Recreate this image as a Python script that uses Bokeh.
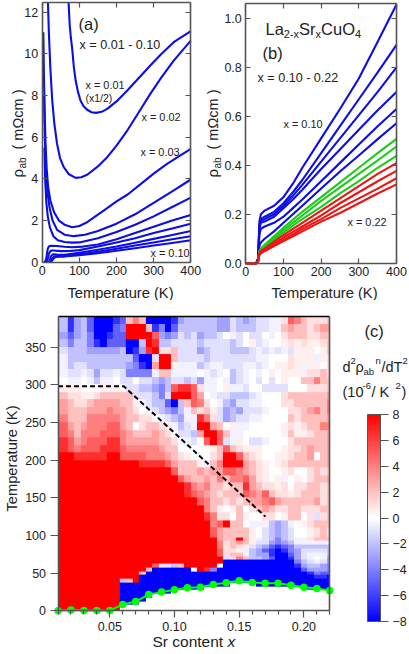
from math import pi
import numpy as np
from bokeh.embed import file_html
from bokeh.resources import INLINE
from bokeh.plotting import figure
from bokeh.layouts import column, row
from bokeh.models import (LinearAxis, FixedTicker, Label, Range1d, ColorBar, LinearColorMapper,
                          CustomJSTickFormatter, NumeralTickFormatter)

FONT = "Liberation Sans"
AX = "#555555"
TXT = "#222222"
BLUE, GREEN, RED = "#0d0de6", "#1ccc1c", "#ee1414"

# ---------- panel (a): resistivity, x = 0.01 ... 0.10 ----------
a01_T = [71, 74, 77, 81, 85, 90, 96, 103, 111, 121, 133, 145, 160, 175, 200, 229, 260, 291, 320, 354, 400]
a01_r = [12.45, 11.4, 10.8, 10.2, 9.4, 8.72, 8.2, 7.76, 7.5, 7.32, 7.2, 7.17, 7.22, 7.36, 7.72, 8.24, 8.84, 9.44, 9.98, 10.56, 11.09]
a02_T = [15.5, 18, 22, 27, 33, 40, 48, 58, 72, 90, 105, 121, 150, 175, 200, 229, 260, 291, 320, 354, 400]
a02_r = [12.45, 11.0, 9.3, 7.76, 6.6, 5.68, 5.0, 4.56, 4.22, 4.05, 4.08, 4.2, 4.6, 5.04, 5.6, 6.32, 7.2, 8.08, 8.85, 9.68, 10.64]
a03_T = [3, 5, 7, 9, 12, 16, 22, 32, 45, 60, 81, 100, 121, 150, 175, 200, 230, 265, 300, 336, 370, 400]
a03_r = [11.04, 8.6, 6.96, 5.68, 4.5, 3.6, 2.96, 2.4, 2.0, 1.8, 1.68, 1.74, 1.92, 2.28, 2.6, 2.92, 3.25, 3.75, 4.25, 4.72, 5.1, 5.44]
a04_T = [5, 7, 10, 14, 20, 28, 40, 60, 85, 115, 150, 200, 250, 300, 350, 400]
a04_r = [8.0, 6.0, 4.5, 3.4, 2.6, 2.0, 1.55, 1.32, 1.25, 1.32, 1.5, 1.85, 2.3, 2.85, 3.4, 3.97]
a05_T = [6, 8, 11, 15, 21, 30, 42, 60, 80, 100, 150, 200, 250, 300, 350, 400]
a05_r = [5.5, 4.0, 2.9, 2.2, 1.65, 1.25, 1.05, 0.97, 0.94, 0.95, 1.15, 1.45, 1.8, 2.2, 2.65, 3.1]
a06_T = [6, 10, 13, 15, 18, 20, 25, 40, 60, 80, 110, 150, 200, 250, 300, 350, 400]
a06_r = [0, 0.1, 0.42, 0.65, 0.75, 0.78, 0.79, 0.78, 0.74, 0.72, 0.75, 0.85, 1.1, 1.4, 1.7, 2.0, 2.27]
a07_T = [12, 15, 18, 21, 24, 30, 50, 75, 100, 150, 200, 250, 300, 350, 400]
a07_r = [0, 0.15, 0.4, 0.5, 0.56, 0.56, 0.53, 0.54, 0.58, 0.75, 0.95, 1.15, 1.4, 1.62, 1.85]
a08_T = [18, 21, 24, 27, 30, 40, 60, 100, 150, 200, 250, 300, 350, 400]
a08_r = [0, 0.12, 0.3, 0.35, 0.38, 0.37, 0.36, 0.45, 0.6, 0.75, 0.93, 1.12, 1.31, 1.5]
a09_T = [22, 25, 28, 33, 45, 60, 100, 150, 200, 250, 300, 350, 400]
a09_r = [0, 0.08, 0.2, 0.28, 0.29, 0.3, 0.38, 0.5, 0.65, 0.8, 0.95, 1.1, 1.25]
a10_T = [24, 27, 30, 36, 45, 60, 100, 150, 200, 250, 300, 350, 400]
a10_r = [0, 0.08, 0.17, 0.25, 0.26, 0.27, 0.33, 0.43, 0.55, 0.67, 0.8, 0.92, 1.05]
A_CURVES = [(a01_T, a01_r), (a02_T, a02_r), (a03_T, a03_r), (a04_T, a04_r), (a05_T, a05_r),
            (a06_T, a06_r), (a07_T, a07_r), (a08_T, a08_r), (a09_T, a09_r), (a10_T, a10_r)]

# ---------- panel (b): resistivity, x = 0.10 ... 0.22 ----------
b_T = [0, 28, 33, 36, 40, 50, 75, 100, 125, 150, 200, 250, 300, 350, 400]
b10 = [0, 0, 0.02, 0.17, 0.20, 0.215, 0.235, 0.27, 0.325, 0.39, 0.51, 0.63, 0.755, 0.905, 1.057]
b11 = [0, 0, 0.02, 0.15, 0.18, 0.19, 0.21, 0.245, 0.29, 0.34, 0.45, 0.56, 0.67, 0.78, 0.892]
b12 = [0, 0, 0.02, 0.15, 0.175, 0.18, 0.20, 0.235, 0.275, 0.32, 0.415, 0.51, 0.605, 0.70, 0.80]
b13 = [0, 0, 0.02, 0.14, 0.165, 0.17, 0.19, 0.225, 0.26, 0.30, 0.385, 0.465, 0.545, 0.625, 0.70]
b14 = [0, 0, 0.02, 0.12, 0.14, 0.15, 0.165, 0.19, 0.225, 0.26, 0.335, 0.41, 0.485, 0.56, 0.63]
b15 = [0, 0, 0.02, 0.07, 0.085, 0.10, 0.13, 0.165, 0.20, 0.235, 0.305, 0.375, 0.44, 0.507, 0.572]
b16 = [0, 0, 0.01, 0.05, 0.06, 0.075, 0.11, 0.145, 0.178, 0.21, 0.27, 0.33, 0.39, 0.45, 0.508]
b17 = [0, 0, 0.01, 0.045, 0.055, 0.07, 0.102, 0.135, 0.165, 0.195, 0.255, 0.31, 0.365, 0.42, 0.477]
b18 = [0, 0, 0.01, 0.045, 0.055, 0.065, 0.095, 0.125, 0.153, 0.18, 0.23, 0.285, 0.335, 0.39, 0.439]
b19 = [0, 0, 0.01, 0.04, 0.05, 0.06, 0.088, 0.115, 0.14, 0.165, 0.215, 0.265, 0.315, 0.365, 0.409]
b20 = [0, 0, 0.01, 0.04, 0.045, 0.055, 0.08, 0.105, 0.128, 0.15, 0.195, 0.245, 0.29, 0.335, 0.377]
b21 = [0, 0, 0.01, 0.035, 0.045, 0.05, 0.072, 0.095, 0.118, 0.14, 0.18, 0.225, 0.265, 0.305, 0.347]
b22 = [0, 0, 0.01, 0.035, 0.04, 0.05, 0.07, 0.09, 0.11, 0.13, 0.17, 0.205, 0.245, 0.285, 0.322]
B_BLUE = [b10, b11, b12, b13, b14, b15]
B_GREEN = [b16, b17, b18]
B_RED = [b19, b20, b21, b22]

# ---------- panel (c): green transition line ----------
tc_x = [0.01, 0.02, 0.03, 0.04, 0.05, 0.06, 0.07, 0.08, 0.09, 0.10, 0.11,
        0.12, 0.13, 0.14, 0.15, 0.16, 0.17, 0.18, 0.19, 0.20, 0.21, 0.22]
tc_T = [0, 1, 0.5, 0.5, 0.5, 8.3, 12.3, 21.6, 24.8, 27.9, 30.5,
        31.4, 34.9, 37.1, 39.8, 37.6, 36.7, 36.7, 34, 31.4, 29.6, 27]
pg_x = [0.01, 0.0608, 0.1703]
pg_T = [298, 298, 125]

# ---------- panel (c): d2rho/dT2 read by eye, one letter per cell ----------
LEVELS = {"A": -8, "B": -6.5, "C": -5, "D": -4, "E": -3, "F": -2, "G": -1, "H": -0.5, ".": 0,
          "i": 0.5, "j": 1, "k": 2, "l": 3, "m": 4, "n": 5, "o": 6.5, "p": 8}
P21 = "p" * 21
A21 = "A" * 21
# top to bottom, 10 K per row, T = 390 ... 100
HEAT_HIGH = [
    "FBEFCAAABCkmkAAAABEFF" "FFFEEGFEFGGHHjnmkjjjk",
    "FBEFCAAACDpppkBDACFFF" "FFFEEGFFFGGHHklkkjkll",
    "ECEFDAABCCppppnEDEGFG" "EFFG.HG.GG.H.jkkkjjkk",
    "FDFFDBACCCAAFpoFFGGGG" "FGGGGFG.iGH..ijijiijk",
    "GFFFEEEEEFABEopjjkGGG" "EFGGGFFFGHGHGHGiii.ik",
    "HFFFFFFFFFFCAAGppkGGG" "GFGGGGGGGHH...jiiiHij",
    "HFGGFFFFFFEDBAlppiHHH" "FGHHGGGHHGH.iijiHii.j",
    "HGGHGEGGHGDDDDHkkHHHH" ".HGH.FGH.H.i.iiiijjkj",
    ".HH.HFHH.GG.GGFEFGGFG" "EHH.HFGH.G.G.i..kkmkk",
    "iii...iii.GGFFEDFnoon" "jHH.iHHG..GGGG...jjjk",
    "kjjiijkkkkkGGGFDGpppn" "l.HGGFFFGH...jkkkkkkl",
    "lkjjkllllkkiHGFFCAFkn" "mj.HFEGGHH...jjkkkkkm",
    "lkkklllmllkj.HGFEDFHk" "jkiGEFEGGGH...jjklmkm",
    "mkkkmmmmmlkkjj.HGFEHH" "omjGEFGGHH....kjkkkkl",
    "nlklmmmnnlk.jkkjiHFGH" "pplk.iHH.....ijijkkmm",
    "nmkmmmnnnmlkkklkj.GGF" "lppnkHH......ikiijkkl",
    "onlmnnnoomlllllkkj.HG" ".npnGHi.GGH...jkkkkkl",
    "onmnnnooonmmmmmlkk..." "..iknkjiii...ijjklkkl",
    "ppooooopp" "nnnnmmm" "lkji." "..jkppnkji..iijkkl.kl",
    "pppppppppppp" "oooo" "nlkkk" "iHkmppplkji.ijkkkkkkl",
    "ppppppppppppppppp" "nkkk" "lkllnnmlkji..ij..jkjk",
    "pppppppppppppppppp" "nlk" "klkmkmmnlji.iH.i.jkkl",
    "ppppppppppppppppppp" "om" "lmkkjkkolkjjij.jjkkjk",
    "ppppppppppppppppppp" "on" "mlkjkkknmlnkjjijkkkjk",
    P21 + "nmkkjkjkllmnlkkkkkljk",
    P21 + "pmki.ik.jklkjjkkjjjkk",
    P21 + "pomjj.ki..jj.ikk.jGjk",
    P21 + "ppmnpkk.HHHFEFH.ijkkk",
    P21 + "ppnlkkkki.GFEFG..ijkj",
]
# top to bottom, 5 K per row, T = 95 ... 0
HEAT_LOW = [
    P21 + "ppplkkpkiHGFDFGHijkkk",
    P21 + "pppmjklkiGGEDEFHHHHHH",
    P21 + "pppmjkjiGFECBCDFFFFFF",
    P21 + "pppnjjiHFECBABDEGGGGF",
    P21 + "pppnjkkHFEEBAACEGHHHF",
    P21 + "ppppGjmkFFECAABEGH.HE",
    P21 + "ppppAAAAAAAAAAADFGHGE",
    "pppppppppppppp" "njGFkpp" "ppp." "AAAAAAAAAAA" "BEFFED",
    "ppppppppppppp" "k" "AAAAAA" "." "poD" "AAAAAAAAAAAAA" "CEEED",
    "pppppppppppp" "k" "AAAAAAAA" "AAAAAAAAAAAAAAAAA" "BDCC",
    "pppppppppppp" "AAAAAAAAA" "AAAAAAAAAAAAAAAAAA" "BBA",
    "ppppppppp" "Fkp" "AAAAAAAAA" + A21,
    "ppppppppp" "AAAAAAAAAAAA" "AAAAA" "...." "AAAAAAAAAAAA",
    "ppppppppp" "AAAAAAAAAAAA" "A" "..............." "AAAAA",
    "ppppppppp" "AAAAAAAA" "...." "...................." "A",
    "ppppppppp" "AAAAA" "......." ".....................",
    "ppppppppp" "AAAA" "........" ".....................",
    "ppppppppp" "AAA" "........." ".....................",
    "ppppppppp" "............" ".....................",
    "ppppppppp" "............" ".....................",
]
CB_TICKS = [-8, -6, -4, -2, 0, 2, 4, 6, 8]


def to_grid(rows):
    grid = [[LEVELS[c] for c in (r[0] + r)] for r in rows]
    return np.array(grid[::-1], dtype=float)


def put(p, fl, fb, x, y, text, size, align="left", angle=0.0, style="normal", color=TXT):
    p.add_layout(Label(x=x - fl, y=fb - y, x_units="screen", y_units="screen", text=text,
                       text_font=FONT, text_font_size=f"{size}px", text_color=color,
                       text_align=align, text_baseline="middle", angle=angle,
                       text_font_style=style))


def style_axis(ax, ticks, labels=True):
    ax.ticker = FixedTicker(ticks=ticks)
    ax.axis_line_color = AX
    ax.axis_line_width = 1.6
    ax.major_tick_line_color = AX
    ax.major_tick_line_width = 1.2
    ax.major_tick_in = 5
    ax.major_tick_out = 0
    ax.minor_tick_line_color = None
    ax.major_label_text_font = FONT
    ax.major_label_text_font_size = "12.5px"
    ax.major_label_text_color = TXT
    ax.major_label_standoff = 4
    if not labels:
        ax.formatter = CustomJSTickFormatter(code="return ''")
        ax.major_label_standoff = 0
        ax.major_label_text_font_size = "0px"


def panel(canvas_l, canvas_t, width, height, x0px, x_per_px, y0px, y_per_px, x_top, y_top, xt, yt):
    """Frame fills the canvas so that nothing is clipped; axes sit at their data positions."""
    xr = Range1d((canvas_l - x0px) * x_per_px, (canvas_l + width - x0px) * x_per_px)
    yr = Range1d((y0px - canvas_t - height) * y_per_px, (y0px - canvas_t) * y_per_px)
    p = figure(width=width, height=height, min_border=0, x_range=xr, y_range=yr,
               output_backend="svg", toolbar_location=None, outline_line_color=None)
    p.grid.visible = False
    p.background_fill_color = None
    p.border_fill_color = None
    style_axis(p.xaxis[0], xt)
    p.xaxis[0].fixed_location = 0
    p.xaxis[0].bounds = (0, x_top)
    style_axis(p.yaxis[0], yt)
    p.yaxis[0].fixed_location = 0
    p.yaxis[0].bounds = (0, y_top)
    ax_r = LinearAxis(fixed_location=x_top, bounds=(0, y_top))
    style_axis(ax_r, yt, labels=False)
    p.add_layout(ax_r, "right")
    ax_t = LinearAxis(fixed_location=y_top, bounds=(0, x_top))
    style_axis(ax_t, xt, labels=False)
    p.add_layout(ax_t, "above")
    return p


# ---------- (a) ----------
Ha = 300
pa = panel(0, 0, 205, Ha, 41.7, 400 / 148.6, 261.7, 1 / 20.83, 400, 12.45,
           [0, 100, 200, 300, 400], [0, 2, 4, 6, 8, 10, 12])
for t, r in A_CURVES:
    pa.line(t, r, line_color=BLUE, line_width=2.1, line_join="round")
put(pa, 0, Ha, 78, 23, "(a)", 16.5)
put(pa, 0, Ha, 79, 44, "x = 0.01 - 0.10", 12.6)
put(pa, 0, Ha, 85, 84, "x = 0.01", 10.9)
put(pa, 0, Ha, 85, 97, "(x1/2)", 10.5)
put(pa, 0, Ha, 141, 116, "x = 0.02", 10.9)
put(pa, 0, Ha, 140, 151, "x = 0.03", 10.9)
put(pa, 0, Ha, 150, 252, "x = 0.10", 10.9)
put(pa, 0, Ha, 120, 292, "Temperature (K)", 14.7, align="center")
put(pa, 0, Ha, 17, 177, "ρ", 15, angle=pi / 2)
put(pa, 0, Ha, 22, 168, "ab", 10, angle=pi / 2)
put(pa, 0, Ha, 17, 149, "( mΩcm )", 14.5, angle=pi / 2)

# ---------- (b) ----------
OFF = 205
pb = panel(OFF, 0, 204, Ha, 245.3, 400 / 150.7, 262.7, 1 / 244.7, 400, 1.06,
           [0, 100, 200, 300, 400], [0, 0.2, 0.4, 0.6, 0.8, 1.0])
pb.yaxis[0].formatter = NumeralTickFormatter(format="0.0")
for r in B_BLUE:
    pb.line(b_T, r, line_color=BLUE, line_width=2.1, line_join="round")
for r in B_GREEN:
    pb.line(b_T, r, line_color=GREEN, line_width=2.1, line_join="round")
for r in B_RED:
    pb.line(b_T, r, line_color=RED, line_width=2.1, line_join="round")


def putb(x, y, text, size, **kw):
    put(pb, OFF, Ha, x, y, text, size, **kw)


x0 = 265
for txt, size, dx, dy in [("La", 16.5, 0, 0), ("2-x", 11, 18.3, 5), ("Sr", 16.5, 33.6, 0), ("x", 11, 50.1, 5),
                          ("CuO", 16.5, 55.6, 0), ("4", 11, 89.5, 5)]:
    putb(x0 + dx, 28 + dy, txt, size)
putb(262, 52, "(b)", 16.5)
putb(257, 77, "x = 0.10 - 0.22", 12.6)
putb(283, 123, "x = 0.10", 10.9)
putb(347, 221, "x = 0.22", 10.9)
putb(324, 292, "Temperature (K)", 14.7, align="center")
putb(212, 177, "ρ", 15, angle=pi / 2)
putb(217, 168, "ab", 10, angle=pi / 2)
putb(212, 149, "( mΩcm )", 14.5, angle=pi / 2)

# ---------- (c) ----------
PX_PER_X, PX_X05 = 1294.0, 109.3
PX_PER_T, PX_T0 = 0.7533, 610.3
Tc_top = 300
Hc = 354
T_TOP = 390.7


def x_of(px):
    return 0.05 + (px - PX_X05) / PX_PER_X


def t_of(py):
    return (PX_T0 - py) / PX_PER_T


pc = figure(width=409, height=Hc, min_border=0,
            x_range=Range1d(x_of(0), x_of(409)), y_range=Range1d(t_of(654), t_of(Tc_top)),
            output_backend="svg", toolbar_location=None, outline_line_color=None)
pc.grid.visible = False
pc.background_fill_color = None
pc.border_fill_color = None

palette = []
for i in range(128):
    g = int(round(255 * i / 127))
    palette.append(f"#{g:02x}{g:02x}ff")
for i in range(128):
    g = int(round(255 * (127 - i) / 127))
    palette.append(f"#ff{g:02x}{g:02x}")
mapper = LinearColorMapper(palette=palette, low=-8, high=8)

grid_low = to_grid([HEAT_HIGH[-1]] + HEAT_LOW)
grid_high = to_grid(HEAT_HIGH)
x_start = 0.0075
cell_w = 0.005
pc.image(image=[grid_low], x=x_start, y=-2.5, dw=cell_w * grid_low.shape[1], dh=5 * grid_low.shape[0],
         color_mapper=mapper)
pc.image(image=[grid_high], x=x_start, y=100, dw=cell_w * grid_high.shape[1], dh=10 * grid_high.shape[0],
         color_mapper=mapper)

# white margins that trim the half cells reaching past the axes
pc.quad(left=[0.0, 0.22, 0.0], right=[0.01, 0.24, 0.24], bottom=[-15, -15, -15], top=[400, 400, 0],
        fill_color="white", line_color=None)

pc.line(pg_x, pg_T, line_color="black", line_width=2, line_dash="5 3")
pc.line(tc_x, tc_T, line_color="#00ff00", line_width=2)
pc.scatter(tc_x, tc_T, size=7.5, fill_color="#00ff00", line_color="#00ff00", line_width=0)

xax = pc.xaxis[0]
style_axis(xax, [0.05, 0.10, 0.15, 0.20])
xax.fixed_location = 0
xax.bounds = (0.01, 0.22)
xax.ticker = FixedTicker(ticks=[0.05, 0.10, 0.15, 0.20],
                         minor_ticks=[0.01, 0.02, 0.03, 0.04, 0.06, 0.07, 0.08, 0.09, 0.11, 0.12, 0.13,
                                      0.14, 0.16, 0.17, 0.18, 0.19, 0.21, 0.22])
xax.formatter = NumeralTickFormatter(format="0.00")
xax.major_tick_in = 0
xax.major_tick_out = 7
xax.minor_tick_line_color = AX
xax.minor_tick_line_width = 1.2
xax.minor_tick_in = 0
xax.minor_tick_out = 4
yax = pc.yaxis[0]
style_axis(yax, [0, 50, 100, 150, 200, 250, 300, 350])
yax.fixed_location = 0.01
yax.bounds = (0, T_TOP)
yax.major_tick_in = 0
yax.major_tick_out = 8

top_ax = LinearAxis(fixed_location=T_TOP, bounds=(0.01, 0.22), ticker=FixedTicker(ticks=[]),
                    axis_line_color="black", axis_line_width=1.6,
                    major_tick_line_color=None, minor_tick_line_color=None)
pc.add_layout(top_ax, "above")
right_ax = LinearAxis(fixed_location=0.22, bounds=(0, T_TOP), ticker=FixedTicker(ticks=[]),
                      axis_line_color=AX, axis_line_width=1.6,
                      major_tick_line_color=None, minor_tick_line_color=None)
pc.add_layout(right_ax, "right")

BOT = 654
put(pc, 0, BOT, 11, 458, "Temperature (K)", 14.7, align="center", angle=pi / 2)
put(pc, 0, BOT, 152, 641, "Sr content", 15.5)
put(pc, 0, BOT, 227, 641, "x", 15.5, style="italic")

put(pc, 0, BOT, 364, 330, "(c)", 16.5)
for txt, size, x, dy in [("d", 14.5, 342, 0), ("2", 9.5, 350, -6), ("ρ", 14.5, 355, 0), ("ab", 9.5, 363, 5),
                         ("n", 9.5, 375, -6), ("/dT", 14.5, 381, 0), ("2", 9.5, 402, -6)]:
    put(pc, 0, BOT, x, 366 + dy, txt, size)
for txt, size, x, dy in [("(10", 14.5, 342, 0), ("-6", 9.5, 362, -6), (" / K", 14.5, 371, 0),
                         ("2", 9.5, 395, -6), (")", 14.5, 401, 0)]:
    put(pc, 0, BOT, x, 391 + dy, txt, size)

cb = ColorBar(color_mapper=mapper, ticker=FixedTicker(ticks=CB_TICKS), location=(367, BOT - 621),
              width=13, height=207, padding=0, margin=0, background_fill_color=None,
              border_line_color=None, bar_line_color=AX, bar_line_width=1,
              major_tick_line_color=AX, major_tick_in=0, major_tick_out=8,
              minor_tick_line_color=None, major_label_text_font=FONT, major_label_text_font_size="12.5px",
              major_label_text_color=TXT, label_standoff=4)
pc.add_layout(cb)

page = column(row(pa, pb, spacing=0), pc, spacing=0)
open("out.html", "w").write(file_html(page, INLINE))
